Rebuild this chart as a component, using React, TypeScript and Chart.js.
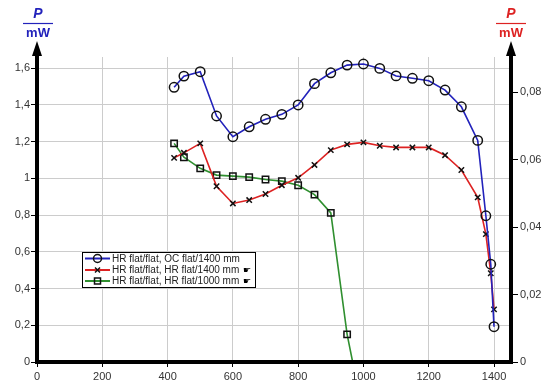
import React, { useEffect, useRef } from "react";
import { Chart, registerables } from "chart.js";

Chart.register(...registerables);

const xBlue = [420, 450, 500, 550, 600, 650, 700, 750, 800, 850, 900, 950, 1000, 1050, 1100, 1150, 1200, 1250, 1300, 1350, 1375, 1390, 1400];
const blueValues = [1.495, 1.556, 1.58, 1.339, 1.226, 1.28, 1.321, 1.348, 1.399, 1.515, 1.574, 1.616, 1.622, 1.598, 1.557, 1.544, 1.531, 1.48, 1.389, 1.206, 0.796, 0.532, 0.192];

const xRed = [420, 450, 500, 550, 600, 650, 700, 750, 800, 850, 900, 950, 1000, 1050, 1100, 1150, 1200, 1250, 1300, 1350, 1375, 1390, 1400];
const redValues = [0.0605, 0.062, 0.0648, 0.0521, 0.047, 0.048, 0.0498, 0.0524, 0.0546, 0.0584, 0.0628, 0.0645, 0.0651, 0.0641, 0.0636, 0.0636, 0.0636, 0.0613, 0.0569, 0.0488, 0.0379, 0.0263, 0.0156];

const xGreen = [420, 450, 500, 550, 600, 650, 700, 750, 800, 850, 900, 950, 1000];
const greenValues = [0.0648, 0.0607, 0.0574, 0.0554, 0.0551, 0.0548, 0.0541, 0.0536, 0.0524, 0.0496, 0.0442, 0.0082, -0.016];

const seriesLabels = [
  "HR flat/flat, OC flat/1400 mm",
  "HR flat/flat, HR flat/1400 mm",
  "HR flat/flat, HR flat/1000 mm",
];

const xTicks = [0, 200, 400, 600, 800, 1000, 1200, 1400];
const leftTicks = [0, 0.2, 0.4, 0.6, 0.8, 1, 1.2, 1.4, 1.6];
const rightTicks = [0, 0.02, 0.04, 0.06, 0.08];

const BLUE = "#2222bb";
const RED = "#dd2222";
const GREEN = "#2f8f2f";
const FONT = "'Liberation Sans', Arial, sans-serif";

const fmt = (v: number) => String(Number(v.toFixed(3))).replace(".", ",");

const deco = {
  id: "deco",
  afterDraw(chart: any) {
    const { ctx } = chart;
    const { left, right, bottom } = chart.chartArea;
    ctx.save();
    ctx.fillStyle = "#000";
    // axes
    ctx.fillRect(left - 2, 52, 4, bottom - 52 + 2);
    ctx.fillRect(right - 2, 52, 4, bottom - 52 + 2);
    ctx.fillRect(left - 2, bottom - 2, right - left + 4, 4);
    // arrows
    for (const ax of [left, right]) {
      ctx.beginPath();
      ctx.moveTo(ax, 41);
      ctx.lineTo(ax - 5, 56);
      ctx.lineTo(ax + 5, 56);
      ctx.closePath();
      ctx.fill();
    }
    // axis titles
    const titles = [
      { x: left + 1, c: BLUE },
      { x: right, c: RED },
    ];
    for (const t of titles) {
      ctx.fillStyle = t.c;
      ctx.strokeStyle = t.c;
      ctx.textAlign = "center";
      ctx.textBaseline = "middle";
      ctx.font = `italic bold 14px ${FONT}`;
      ctx.fillText("P", t.x, 14);
      ctx.lineWidth = 1.2;
      ctx.beginPath();
      ctx.moveTo(t.x - 15, 23.5);
      ctx.lineTo(t.x + 15, 23.5);
      ctx.stroke();
      ctx.font = `bold 13px ${FONT}`;
      ctx.fillText("mW", t.x, 33);
    }
    // legend
    const lx = 82, ly = 252, lw = 173, lh = 35;
    ctx.fillStyle = "#fff";
    ctx.fillRect(lx, ly, lw, lh);
    ctx.strokeStyle = "#000";
    ctx.lineWidth = 1;
    ctx.strokeRect(lx + 0.5, ly + 0.5, lw, lh);
    const colors = [BLUE, RED, GREEN];
    const ys = [258.5, 270, 281];
    for (let i = 0; i < 3; i++) {
      const y = ys[i];
      ctx.strokeStyle = colors[i];
      ctx.lineWidth = 2;
      ctx.beginPath();
      ctx.moveTo(85, y);
      ctx.lineTo(110, y);
      ctx.stroke();
      ctx.strokeStyle = "#111";
      ctx.lineWidth = 1.5;
      ctx.beginPath();
      if (i === 0) {
        ctx.arc(97.5, y, 4, 0, Math.PI * 2);
      } else if (i === 1) {
        ctx.moveTo(95, y - 2.5); ctx.lineTo(100, y + 2.5);
        ctx.moveTo(100, y - 2.5); ctx.lineTo(95, y + 2.5);
      } else {
        ctx.rect(94.5, y - 3, 6, 6);
      }
      ctx.stroke();
      ctx.fillStyle = "#222";
      ctx.font = `10px ${FONT}`;
      ctx.textAlign = "left";
      ctx.textBaseline = "middle";
      ctx.fillText(seriesLabels[i], 112, y + 0.5);
      if (i > 0) {
        ctx.font = `9px 'DejaVu Sans'`;
        ctx.fillStyle = "#000";
        ctx.fillText("☛", 243, y + 1);
      }
    }
    ctx.restore();
  },
};

export default function App() {
  const ref = useRef<HTMLCanvasElement | null>(null);
  useEffect(() => {
    if (!ref.current) return;
    const pts = (xs: number[], ys: number[]) => xs.map((x, i) => ({ x, y: ys[i] }));
    const chart = new Chart(ref.current, {
      type: "line",
      data: {
        datasets: [
          {
            label: seriesLabels[0],
            data: pts(xBlue, blueValues),
            yAxisID: "y",
            borderColor: BLUE,
            borderWidth: 1.6,
            pointStyle: "circle",
            pointRadius: 4.7,
            pointBorderColor: "#111",
            pointBorderWidth: 1.5,
            pointBackgroundColor: "rgba(0,0,0,0)",
            tension: 0,
          },
          {
            label: seriesLabels[1],
            data: pts(xRed, redValues),
            yAxisID: "y1",
            borderColor: RED,
            borderWidth: 1.6,
            pointStyle: "crossRot",
            pointRadius: 3.8,
            pointBorderColor: "#111",
            pointBorderWidth: 1.5,
            tension: 0,
          },
          {
            label: seriesLabels[2],
            data: pts(xGreen, greenValues),
            yAxisID: "y1",
            borderColor: GREEN,
            borderWidth: 1.6,
            pointStyle: "rect",
            pointRadius: 4.5,
            pointBorderColor: "#111",
            pointBorderWidth: 1.5,
            pointBackgroundColor: "rgba(0,0,0,0)",
            tension: 0,
            clip: 0 as any,
          },
        ],
      },
      options: {
        responsive: false,
        animation: false,
        layout: { padding: { top: 57, left: 0, right: 0, bottom: 0 } },
        plugins: { legend: { display: false }, tooltip: { enabled: false } },
        scales: {
          x: {
            type: "linear",
            min: 0,
            max: 1452,
            afterBuildTicks: (s: any) => { s.ticks = xTicks.map((v) => ({ value: v })); },
            afterFit: (s: any) => { s.height = 21; },
            grid: { color: "#cccccc", lineWidth: 1, tickLength: 5, tickColor: "#000" },
            border: { display: false },
            ticks: { color: "#333", font: { family: FONT, size: 11 }, padding: 3, maxRotation: 0, callback: (v: any) => String(v) },
          },
          y: {
            type: "linear",
            position: "left",
            min: 0,
            max: 1.66,
            afterBuildTicks: (s: any) => { s.ticks = leftTicks.map((v) => ({ value: v })); },
            afterFit: (s: any) => { s.width = 37; },
            grid: { color: "#cccccc", lineWidth: 1, tickLength: 6, tickColor: "#000" },
            border: { display: false },
            ticks: { color: "#333", font: { family: FONT, size: 11 }, padding: 1, callback: (v: any) => fmt(Number(v)) },
          },
          y1: {
            type: "linear",
            position: "right",
            min: 0,
            max: 0.0904,
            afterBuildTicks: (s: any) => { s.ticks = rightTicks.map((v) => ({ value: v })); },
            afterFit: (s: any) => { s.width = 42; },
            grid: { drawOnChartArea: false, tickLength: 7, tickColor: "#000" },
            border: { display: false },
            ticks: { color: "#333", font: { family: FONT, size: 11 }, padding: 2, callback: (v: any) => fmt(Number(v)) },
          },
        },
      },
      plugins: [deco],
    });
    return () => chart.destroy();
  }, []);
  return (
    <div style={{ position: "fixed", left: 0, top: 0, width: 553, height: 383, background: "#fff" }}>
      <canvas ref={ref} width={553} height={383} style={{ display: "block" }} />
    </div>
  );
}
